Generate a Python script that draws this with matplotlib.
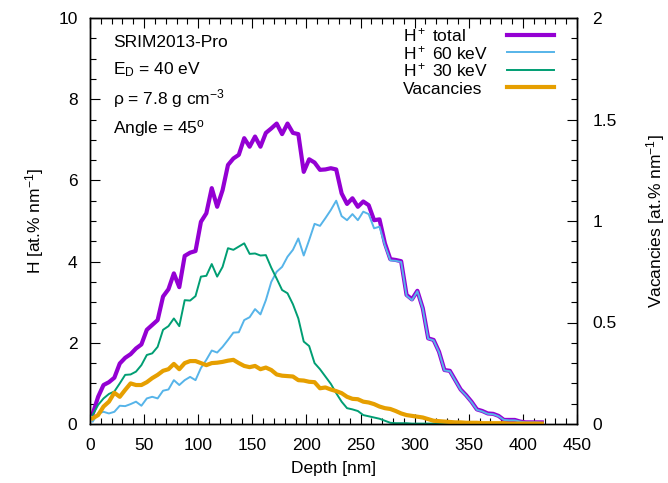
import matplotlib
matplotlib.use("Agg")
import matplotlib.pyplot as plt
from matplotlib.lines import Line2D
import numpy as np

plt.rcParams["font.family"] = ["Liberation Sans", "DejaVu Sans"]
plt.rcParams["mathtext.fontset"] = "custom"
plt.rcParams["mathtext.rm"] = "Liberation Sans"
plt.rcParams["mathtext.it"] = "Liberation Sans:italic"
plt.rcParams["mathtext.default"] = "regular"

# depth bins [nm], 5 nm step
depth = np.arange(2.5, 420, 5.0)

# H concentration [at.% nm^-1]
h_total = [
    0.25, 0.67, 0.96, 1.03, 1.14, 1.49, 1.63, 1.72, 1.86, 1.96,
    2.32, 2.44, 2.56, 3.14, 3.32, 3.71, 3.37, 4.14, 4.22, 4.26,
    4.98, 5.19, 5.81, 5.35, 5.76, 6.38, 6.54, 6.63, 7.04, 6.83,
    7.08, 6.83, 7.17, 7.28, 7.40, 7.14, 7.40, 7.17, 7.14, 6.21,
    6.52, 6.44, 6.26, 6.27, 6.30, 6.27, 5.68, 5.42, 5.56, 5.35,
    5.48, 5.39, 5.02, 5.04, 4.45, 4.06, 4.04, 4.01, 3.18, 3.07,
    3.28, 2.85, 2.11, 2.07, 1.78, 1.33, 1.31, 1.08, 0.85, 0.71,
    0.55, 0.36, 0.32, 0.26, 0.25, 0.20, 0.10, 0.10, 0.10, 0.06,
    0.04, 0.04, 0.04, 0.04,
]
h_60kev = [
    0.06, 0.26, 0.30, 0.26, 0.30, 0.45, 0.44, 0.49, 0.55, 0.45,
    0.63, 0.67, 0.63, 0.82, 0.85, 1.08, 0.96, 1.08, 1.16, 1.08,
    1.38, 1.58, 1.81, 1.76, 1.90, 2.07, 2.25, 2.26, 2.56, 2.63,
    2.83, 2.70, 3.05, 3.50, 3.75, 3.87, 4.12, 4.29, 4.57, 4.15,
    4.53, 4.93, 4.88, 5.07, 5.27, 5.50, 5.12, 5.02, 5.17, 5.02,
    5.23, 5.17, 4.82, 4.86, 4.40, 4.03, 4.02, 3.99, 3.16, 3.05,
    3.27, 2.84, 2.10, 2.06, 1.77, 1.32, 1.30, 1.07, 0.84, 0.70,
    0.54, 0.35, 0.31, 0.25, 0.24, 0.19, 0.10, 0.09, 0.09, 0.06,
    0.04, 0.04, 0.04, 0.03,
]
h_30kev = [
    0.22, 0.47, 0.63, 0.74, 0.80, 1.00, 1.21, 1.22, 1.29, 1.45,
    1.70, 1.74, 1.90, 2.32, 2.41, 2.60, 2.41, 3.05, 3.04, 3.15,
    3.63, 3.65, 3.94, 3.63, 3.87, 4.33, 4.29, 4.37, 4.45, 4.19,
    4.20, 4.15, 4.16, 3.85, 3.58, 3.30, 3.22, 2.95, 2.60, 2.03,
    1.92, 1.50, 1.35, 1.17, 0.99, 0.76, 0.55, 0.39, 0.36, 0.32,
    0.22, 0.19, 0.16, 0.13, 0.08, 0.03, 0.02, 0.02, 0.02, 0.01,
    0.01, 0.01, 0.01, 0.01, 0.00, 0.00, 0.00, 0.00, 0.00, 0.00,
    0.00, 0.00, 0.00, 0.00, 0.00, 0.00, 0.00, 0.00, 0.00, 0.00,
    0.00, 0.00, 0.00, 0.00,
]
# vacancies [at.% nm^-1], right axis
vacancies = [
    0.028, 0.044, 0.086, 0.110, 0.154, 0.134, 0.168, 0.200, 0.192, 0.192,
    0.206, 0.226, 0.242, 0.262, 0.270, 0.296, 0.270, 0.300, 0.310, 0.310,
    0.300, 0.290, 0.300, 0.302, 0.306, 0.312, 0.316, 0.300, 0.286, 0.280,
    0.286, 0.270, 0.278, 0.266, 0.244, 0.238, 0.236, 0.234, 0.216, 0.214,
    0.208, 0.206, 0.176, 0.180, 0.170, 0.162, 0.152, 0.134, 0.124, 0.122,
    0.110, 0.106, 0.098, 0.086, 0.078, 0.074, 0.064, 0.052, 0.044, 0.040,
    0.036, 0.032, 0.024, 0.016, 0.014, 0.012, 0.010, 0.008, 0.008, 0.006,
    0.006, 0.006, 0.004, 0.004, 0.004, 0.004, 0.004, 0.002, 0.002, 0.002,
    0.002, 0.002, 0.002, 0.002,
]

series_labels = ["H$^+$ total", "H$^+$ 60 keV", "H$^+$ 30 keV", "Vacancies"]
series_colors = ["#9400D3", "#56B4E9", "#009E73", "#E69F00"]
series_widths = [3.0, 1.4, 1.4, 3.0]

info_lines = [
    "SRIM2013-Pro",
    "E$_D$ = 40 eV",
    "ρ = 7.8 g cm$^{-3}$",
    "Angle = 45$^o$",
]

FS = 12.5

fig = plt.figure(figsize=(6.68, 4.83), dpi=100)
ax = fig.add_axes([90 / 668, 59 / 483, 487 / 668, 406 / 483])
ax2 = ax.twinx()

ax.plot(depth, h_total, color=series_colors[0], lw=series_widths[0])
ax.plot(depth, h_60kev, color=series_colors[1], lw=series_widths[1])
ax.plot(depth, h_30kev, color=series_colors[2], lw=series_widths[2])
ax2.plot(depth, vacancies, color=series_colors[3], lw=series_widths[3])

ax.set_xlim(0, 450)
ax.set_ylim(0, 10)
ax2.set_ylim(0, 2)

ax.set_xticks(np.arange(0, 451, 50))
ax.set_xticks(np.arange(0, 451, 10), minor=True)
ax.set_yticks(np.arange(0, 11, 2))
ax.set_yticks(np.arange(0, 10.01, 0.5), minor=True)
ax2.set_yticks([0, 0.5, 1, 1.5, 2])
ax2.set_yticklabels(["0", "0.5", "1", "1.5", "2"])
ax2.set_yticks(np.arange(0, 2.001, 0.1), minor=True)

ax.tick_params(which="both", direction="in", top=True, right=False, labelsize=FS)
ax.tick_params(which="major", length=7, width=0.8)
ax.tick_params(which="minor", length=4, width=0.8)
ax.tick_params(axis="x", pad=10)
ax.tick_params(axis="y", pad=9)
ax2.tick_params(which="both", direction="in", labelsize=FS, pad=11)
ax2.tick_params(which="major", length=7, width=0.8)
ax2.tick_params(which="minor", length=4, width=0.8)

ax.set_xlabel("Depth [nm]", fontsize=FS, labelpad=6)
ax.set_ylabel("H [at.% nm$^{-1}$]", fontsize=FS, labelpad=9)
ax2.set_ylabel("Vacancies [at.% nm$^{-1}$]", fontsize=FS, labelpad=20)

for side in ("left", "right", "top", "bottom"):
    ax.spines[side].set_linewidth(1.0)
    ax2.spines[side].set_linewidth(1.0)

# info block, top left
for txt, yy in zip(info_lines, [0.929, 0.862, 0.786, 0.717]):
    ax.text(0.047, yy, txt, transform=ax.transAxes, fontsize=FS, va="baseline", ha="left")

# gnuplot-style key: left-aligned text, sample line on the right
key_rows = [0.958, 0.9155, 0.872, 0.829]
for lab, col, lw, yy in zip(series_labels, series_colors, series_widths, key_rows):
    ax2.text(0.6427, yy - 0.0160, lab, transform=ax2.transAxes, fontsize=FS,
             va="baseline", ha="left")
    ax2.add_line(Line2D([0.8556, 0.9534], [yy, yy], transform=ax2.transAxes,
                        color=col, lw=lw))

fig.savefig("out.png", dpi=100)
